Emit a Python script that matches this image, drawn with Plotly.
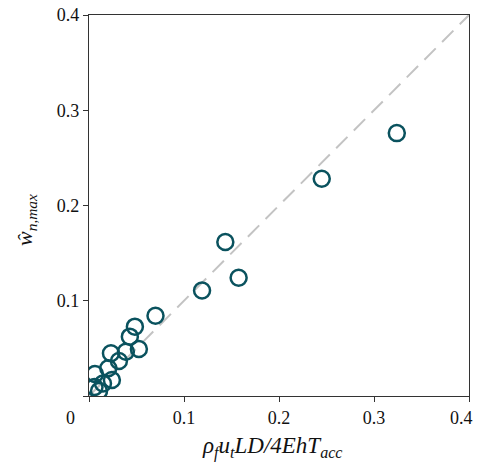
import plotly.graph_objects as go

x_vals = [0.324, 0.245, 0.1435, 0.1575, 0.119, 0.070, 0.0483, 0.043, 0.0525, 0.0388,
          0.0231, 0.0315, 0.0203, 0.0063, 0.0241, 0.0147, 0.0058, 0.0105]
y_vals = [0.276, 0.228, 0.1617, 0.1242, 0.1108, 0.0843, 0.0728, 0.0623, 0.0494, 0.0465,
          0.0448, 0.0368, 0.0291, 0.0231, 0.0168, 0.0131, 0.0094, 0.0052]
ref_line = [0, 0.4]
tick_vals = [0, 0.1, 0.2, 0.3, 0.4]
x_tick_text = ["", "0.1", "0.2", "0.3", ""]
y_tick_text = ["", "0.1", "0.2", "0.3", "0.4"]

font_family = "Liberation Serif"

# page body has an 8px margin; plot area targeted at viewport x 89-469, y 15-396
L, R, T, B = 81, 6, 7, 66
PW, PH = 380, 381
W, H = L + PW + R, T + PH + B
OX, OY = 89, 396  # viewport position of the plot's lower-left corner


def px(vx):
    return (vx - OX) / PW


def py(vy):
    return (OY - vy) / PH


fig = go.Figure()
fig.add_trace(go.Scatter(x=ref_line, y=ref_line, mode="lines",
                         line=dict(color="#c3c3c3", width=2, dash="16px,9px"),
                         hoverinfo="skip", showlegend=False))
fig.add_trace(go.Scatter(x=x_vals, y=y_vals, mode="markers",
                         marker=dict(symbol="circle-open", size=16, color="#0a525e",
                                     line=dict(width=2.5, color="#0a525e")),
                         showlegend=False))

axis_common = dict(range=[0, 0.4], tickvals=tick_vals, ticks="outside", ticklen=5,
                   tickwidth=1, tickcolor="#333", showline=True, linecolor="#333",
                   linewidth=1.2, mirror=True, showgrid=False, zeroline=False,
                   automargin=False, ticklabeloverflow="allow",
                   tickfont=dict(family=font_family, size=18, color="#111"))
fig.update_xaxes(ticktext=x_tick_text, **axis_common)
fig.update_yaxes(ticktext=y_tick_text, **axis_common)

fig.update_layout(
    width=W, height=H,
    margin=dict(l=L, r=R, t=T, b=B),
    plot_bgcolor="white", paper_bgcolor="white",
    font=dict(family=font_family, color="#111"),
    annotations=[
        dict(text="0", x=px(70), y=py(418),
             xref="paper", yref="paper", xanchor="center", yanchor="middle",
             showarrow=False,
             font=dict(family=font_family, size=18, color="#111")),
        dict(text="0.4", x=px(475), y=py(418),
             xref="paper", yref="paper", xanchor="right", yanchor="middle",
             showarrow=False,
             font=dict(family=font_family, size=18, color="#111")),
        dict(text="<i>ρ<sub>f</sub>u<sub>t</sub>LD/4EhT<sub>acc</sub></i>",
             x=px(272), y=py(431), xref="paper", yref="paper",
             xanchor="center", yanchor="top",
             showarrow=False, font=dict(family=font_family, size=23, color="#111")),
        dict(text="<i>ŵ<sub>n,max</sub></i>",
             x=px(26), y=py(220), xref="paper", yref="paper",
             xanchor="center", yanchor="middle",
             textangle=-90, showarrow=False,
             font=dict(family=font_family, size=22, color="#111")),
    ],
)

fig.write_html("out.html")
